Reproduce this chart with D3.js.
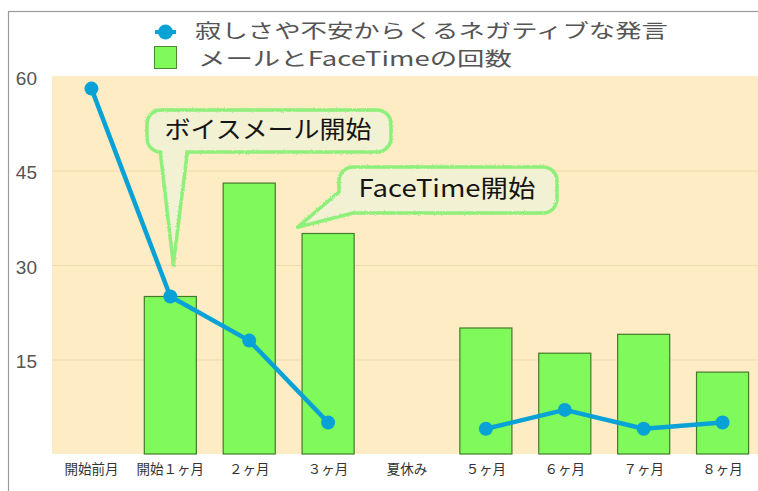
<!DOCTYPE html>
<html>
<head>
<meta charset="utf-8">
<script src="https://cdn.jsdelivr.net/npm/d3@7"></script>
<style>
  body { margin: 0; background: #fff; }
  svg { display: block; font-family: "Noto Sans CJK JP", "Noto Sans", sans-serif; }
</style>
</head>
<body>
<div id="chart"></div>
<script>
// data
var months = ["開始前月", "開始１ヶ月", "２ヶ月", "３ヶ月", "夏休み", "５ヶ月", "６ヶ月", "７ヶ月", "８ヶ月"];
var negativeRemarks = [58, 25, 18, 5, null, 4, 7, 4, 5];
var mailFaceTime = [null, 25, 43, 35, null, 20, 16, 19, 13];
var yTicks = [15, 30, 45, 60];
var seriesNames = ["寂しさや不安からくるネガティブな発言", "メールとFaceTimeの回数"];
var notes = ["ボイスメール開始", "FaceTime開始"];

var width = 758;
var height = 491;

var svg = d3.select("#chart").
append("svg").
attr("width", width).
attr("height", height);

var defs = svg.append("defs");
var rough = defs.append("filter").
attr("id", "rough").
attr("x", "-10%").attr("y", "-10%").
attr("width", "120%").attr("height", "120%");
rough.append("feTurbulence").
attr("type", "fractalNoise").
attr("baseFrequency", 0.9).
attr("numOctaves", 2).
attr("result", "noise");
rough.append("feDisplacementMap").
attr("in", "SourceGraphic").
attr("in2", "noise").
attr("scale", 2.5);

// frame
svg.append("rect").
attr("x", 8.5).
attr("y", 11.5).
attr("width", 800).
attr("height", 600).
attr("fill", "none").
attr("stroke", "#9a9a9a").
attr("stroke-width", 1.2);

var x = d3.scaleBand().domain(months).range([52, 762]);
var y = d3.scaleLinear().domain([0, 60]).range([454, 76]);

// plot background
svg.append("rect").
attr("x", x.range()[0]).
attr("y", y(60)).
attr("width", x.range()[1] - x.range()[0]).
attr("height", y(0) - y(60)).
attr("fill", "#feecc4");

svg.selectAll(".grid").
data(yTicks.slice(0, 3)).
enter().
append("line").
attr("class", "grid").
attr("x1", x.range()[0]).
attr("x2", x.range()[1]).
attr("y1", function (d) { return y(d) + 0.5; }).
attr("y2", function (d) { return y(d) + 0.5; }).
attr("stroke", "#f1d9b0").
attr("stroke-width", 1);

// y labels
svg.selectAll(".ylab").
data(yTicks).
enter().
append("text").
attr("class", "ylab").
attr("x", 37).
attr("y", function (d) { return y(d) + 2; }).
attr("dy", "0.35em").
attr("text-anchor", "end").
attr("font-family", "\"Liberation Sans\", sans-serif").
attr("font-size", 19).
attr("fill", "#555").
text(function (d) { return d; });

// x labels
svg.selectAll(".xlab").
data(months).
enter().
append("text").
attr("class", "xlab").
attr("x", function (d) { return x(d) + x.bandwidth() / 2; }).
attr("y", 469).
attr("dy", "0.35em").
attr("text-anchor", "middle").
attr("font-size", 13.5).
attr("fill", "#333").
text(function (d) { return d; });

// bars
var barW = x.bandwidth() * 0.66;
svg.selectAll(".bar").
data(months.map(function (m, i) { return { m: m, v: mailFaceTime[i] }; }).filter(function (d) { return d.v != null; })).
enter().
append("rect").
attr("class", "bar").
attr("x", function (d) { return x(d.m) + (x.bandwidth() - barW) / 2; }).
attr("y", function (d) { return y(d.v); }).
attr("width", barW).
attr("height", function (d) { return y(0) - y(d.v); }).
attr("fill", "#80f95a").
attr("stroke", "#437a2c").
attr("stroke-width", 1.2);

// callouts
function balloon(box, tip, side) {
  var x0 = box[0], y0 = box[1], x1 = box[2], y1 = box[3], r = 14;
  var p = d3.path();
  p.moveTo(x0 + r, y0);
  p.lineTo(x1 - r, y0);
  p.arcTo(x1, y0, x1, y0 + r, r);
  p.lineTo(x1, y1 - r);
  p.arcTo(x1, y1, x1 - r, y1, r);
  if (side === "bottom") {
    p.lineTo(tip[0] + 14, y1);
    p.lineTo(tip[0], tip[1]);
    p.lineTo(tip[0] - 13, y1);
    p.lineTo(x0 + r, y1);
    p.arcTo(x0, y1, x0, y1 - r, r);
  } else {
    p.lineTo(x0 + 14, y1);
    p.lineTo(tip[0], tip[1]);
    p.lineTo(x0, y0 + 25);
  }
  p.lineTo(x0, y0 + r);
  p.arcTo(x0, y0, x0 + r, y0, r);
  p.closePath();
  return p.toString();
}

var cx1 = x(months[1]) + x.bandwidth() / 2 + 3;
var cx2 = x(months[2]) + x.bandwidth() + 9;
var callouts = [
  { text: notes[0], box: [147, 110, 391, 152], tip: [cx1, y(30)], side: "bottom", len: 207 },
  { text: notes[1], box: [339, 167, 557, 213], tip: [cx2, y(36)], side: "left", len: 177 }
];

var cg = svg.selectAll(".callout").
data(callouts).
enter().
append("g").
attr("class", "callout");

cg.append("path").
attr("d", function (d) { return balloon(d.box, d.tip, d.side); }).
attr("fill", "#f3f1d4").
attr("stroke", "#8ef07a").
attr("stroke-width", 3.5).
attr("stroke-linejoin", "round").
attr("filter", "url(#rough)");

cg.append("text").
attr("x", function (d) { return (d.box[0] + d.box[2]) / 2 - 1; }).
attr("y", function (d) { return (d.box[1] + d.box[3]) / 2 - 2; }).
attr("dy", "0.36em").
attr("text-anchor", "middle").
attr("font-size", 24).
attr("fill", "#151515").
attr("textLength", function (d) { return d.len; }).
attr("lengthAdjust", "spacingAndGlyphs").
text(function (d) { return d.text; });

// line
var pts = months.map(function (m, i) { return { m: m, v: negativeRemarks[i] }; });
var line = d3.line().
defined(function (d) { return d.v != null; }).
x(function (d) { return x(d.m) + x.bandwidth() / 2; }).
y(function (d) { return y(d.v); });

svg.append("path").
datum(pts).
attr("d", line).
attr("fill", "none").
attr("stroke", "#09a2d6").
attr("stroke-width", 4.5).
attr("stroke-linejoin", "round");

svg.selectAll(".dot").
data(pts.filter(function (d) { return d.v != null; })).
enter().
append("circle").
attr("class", "dot").
attr("cx", function (d) { return x(d.m) + x.bandwidth() / 2; }).
attr("cy", function (d) { return y(d.v); }).
attr("r", 7).
attr("fill", "#09a2d6");

// legend
svg.append("line").
attr("x1", 155).attr("x2", 176).
attr("y1", 32).attr("y2", 32).
attr("stroke", "#09a2d6").
attr("stroke-width", 4);
svg.append("circle").
attr("cx", 165.5).
attr("cy", 32).
attr("r", 7.5).
attr("fill", "#09a2d6");
svg.append("rect").
attr("x", 154.5).
attr("y", 46.5).
attr("width", 22).
attr("height", 22).
attr("fill", "#80f95a").
attr("stroke", "#4a8a30").
attr("stroke-width", 1);

svg.append("text").
attr("x", 195).
attr("y", 31).
attr("dy", "0.36em").
attr("font-size", 19.5).
attr("fill", "#555").
attr("textLength", 473).
attr("lengthAdjust", "spacingAndGlyphs").
text(seriesNames[0]);

svg.append("text").
attr("x", 198).
attr("y", 59).
attr("dy", "0.36em").
attr("font-size", 19.5).
attr("fill", "#555").
attr("textLength", 314).
attr("lengthAdjust", "spacingAndGlyphs").
text(seriesNames[1]);
</script>
</body>
</html>
